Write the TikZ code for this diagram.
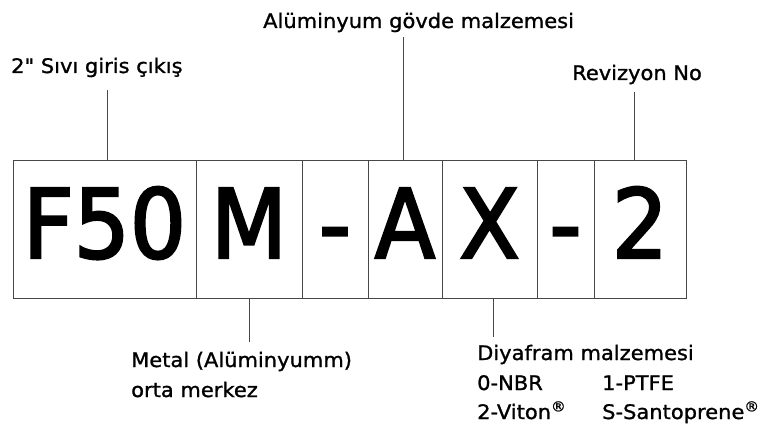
\documentclass[tikz,border=0pt]{standalone}
\usepackage{fontspec}
\setmainfont{DejaVu Sans}
\newfontfamily\lblfont[FakeStretch=1.05, FakeBold=1.2]{DejaVu Sans}
\newfontfamily\bigfont[FakeStretch=0.92, FakeBold=2.5]{DejaVu Sans}
\begin{document}
\begin{tikzpicture}[x=1pt,y=-1pt,
  cell/.style={draw=black!72, line width=0.9pt, minimum height=138pt, inner sep=0pt,
    font=\bigfont\fontsize{96}{100}\selectfont, text height=70pt, text depth=12pt},
  lbl/.style={font=\lblfont\fontsize{20}{24}\selectfont, inner sep=0pt, anchor=base west},
  lead/.style={draw=black!72, line width=0.9pt}]
\useasboundingbox (0,0) rectangle (766,430);
% boxes
\node[cell, minimum width=183pt] (b1) at (104.5,229) {F50};
\node[cell, minimum width=106pt] (b2) at (249,229) {M};
\node[cell, minimum width=66pt] (b3) at (335,229) {-};
\node[cell, minimum width=74pt] (b4) at (405,229) {A};
\node[cell, minimum width=95pt] (b5) at (489.5,229) {X};
\node[cell, minimum width=57pt] (b6) at (565.5,229) {-};
\node[cell, minimum width=92pt] (b7) at (640,229) {2};
% labels
\node[lbl] (l1) at (11,73) {2\symbol{34} Sıvı giris çıkış};
\node[lbl] (l2) at (263,28) {Alüminyum gövde malzemesi};
\node[lbl] (l3) at (572,80) {Revizyon No};
\node[lbl] (l4) at (131,367) {Metal (Alüminyumm)};
\node[lbl] (l4b) at (131,397) {orta merkez};
\node[lbl] (l5) at (477,360) {Diyafram malzemesi};
\node[lbl] (l5a) at (477,390) {0-NBR};
\node[lbl] (l5b) at (602,390) {1-PTFE};
\node[lbl] (l5c) at (477,419) {2-Viton\textsuperscript{®}};
\node[lbl] (l5d) at (602,419) {S-Santoprene\textsuperscript{®}};
% leader ends
\coordinate (c1) at (107,90);
\coordinate (c2) at (403,37);
\coordinate (c3) at (634,92);
\coordinate (c4) at (249,342);
\coordinate (c5) at (493,337);
\draw[lead] (c1 |- b1.north) -- (c1);
\draw[lead] (c2 |- b4.north) -- (c2);
\draw[lead] (c3 |- b7.north) -- (c3);
\draw[lead] (c4 |- b2.south) -- (c4);
\draw[lead] (c5 |- b5.south) -- (c5);
\end{tikzpicture}
\end{document}
